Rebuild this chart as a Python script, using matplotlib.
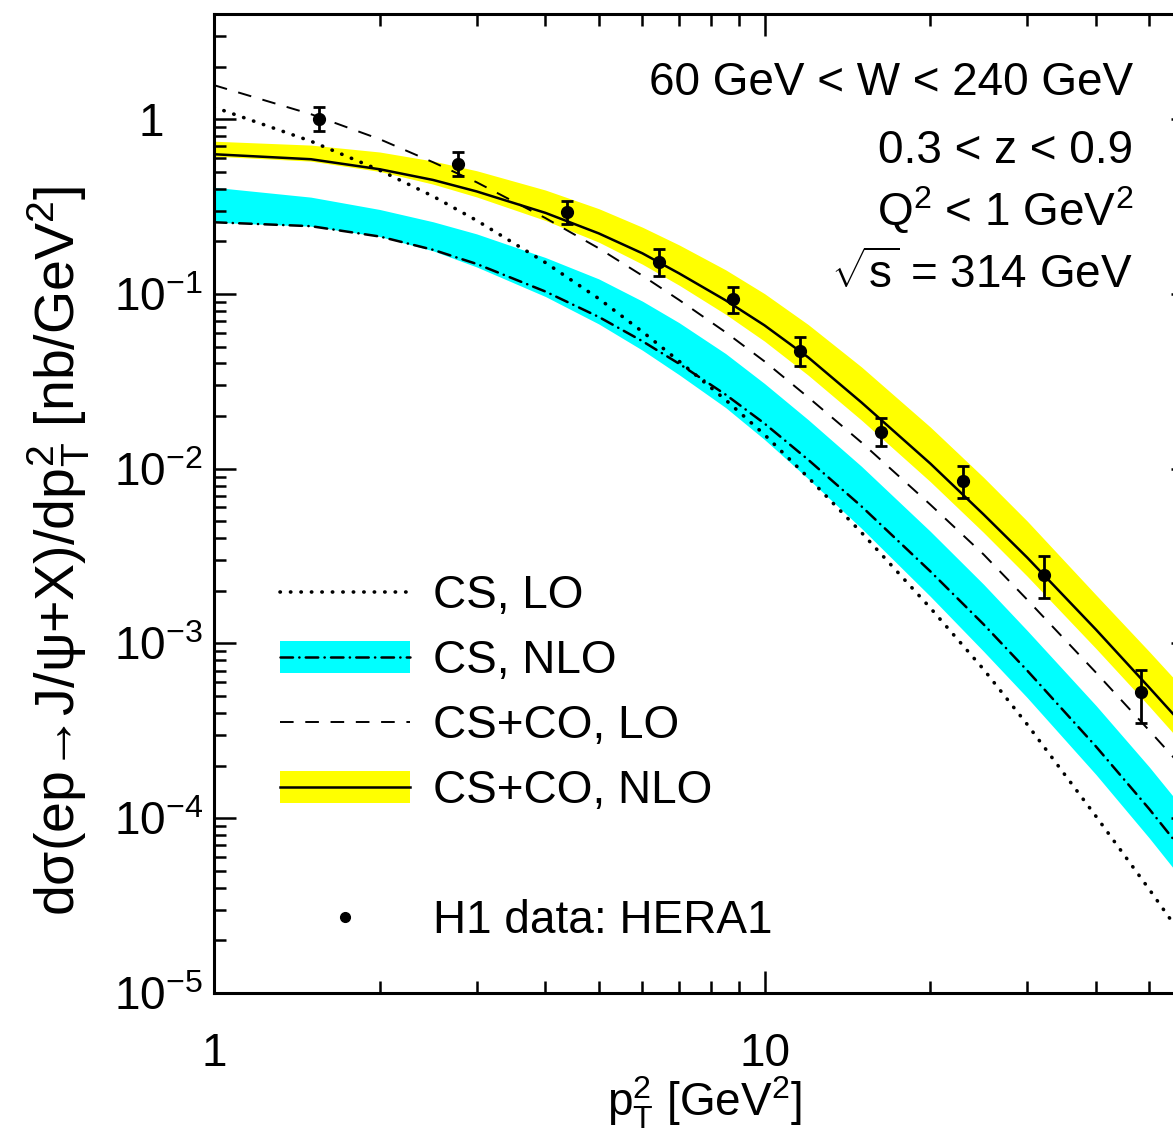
import numpy as np
import matplotlib
matplotlib.use('Agg')
import matplotlib.pyplot as plt
from matplotlib.lines import Line2D
from matplotlib.patches import Patch
from matplotlib.legend_handler import HandlerTuple
from matplotlib.ticker import FixedLocator, LogLocator, FuncFormatter, NullFormatter

plt.rcParams['font.family'] = ['Liberation Sans', 'DejaVu Sans']
plt.rcParams['mathtext.fontset'] = 'custom'
plt.rcParams['mathtext.rm'] = 'Liberation Sans'
plt.rcParams['mathtext.it'] = 'Liberation Sans'
plt.rcParams['mathtext.sf'] = 'Liberation Sans'

# theory curves (pT^2 in GeV^2, dsigma in nb/GeV^2)
pt2 = [1, 1.5, 2, 2.5, 3, 4, 5, 6, 7, 8.5, 10, 12, 15, 20, 25, 30, 40, 50, 60]
cs_lo = [1.1716, 0.7482, 0.5104, 0.3622, 0.2633, 0.1511, 0.09399, 0.06082,
         0.04117, 0.02475, 0.01566, 0.008917, 0.004311, 0.001599, 0.0007106,
         0.0003441, 1.025e-4, 3.909e-5, 1.735e-5]
cs_nlo = [0.2571, 0.2442, 0.2131, 0.1789, 0.1485, 0.1032, 0.07385, 0.05367,
          0.03983, 0.02653, 0.01813, 0.01126, 0.006089, 0.002588, 0.001286,
          0.0006997, 0.0002571, 1.127e-4, 5.488e-5]
cs_nlo_hi = [0.4078, 0.3580, 0.3043, 0.2588, 0.2206, 0.1616, 0.1219, 0.09095,
             0.06839, 0.04557, 0.03072, 0.01909, 0.01032, 0.004385, 0.002180,
             0.001186, 0.0004415, 0.0001962, 9.674e-5]
cs_nlo_lo = [0.2571, 0.2442, 0.2131, 0.1765, 0.1427, 0.09663, 0.06733, 0.04766,
             0.03445, 0.02236, 0.01468, 0.008766, 0.004557, 0.001861, 0.0009011,
             0.0004898, 0.0001777, 7.691e-5, 3.744e-5]
csco_lo = [1.5656, 1.0682, 0.7683, 0.5672, 0.4356, 0.2717, 0.1825, 0.1273,
           0.09226, 0.06034, 0.04111, 0.02564, 0.01413, 0.006235, 0.00323,
           0.00178, 0.000681, 0.000317, 0.000168]
csco_nlo = [0.630, 0.590, 0.517, 0.449, 0.386, 0.291, 0.222, 0.1708,
            0.131, 0.0919, 0.0661, 0.0434, 0.02394, 0.01071, 0.00547,
            0.00310, 0.00120, 0.000558, 0.000296]
csco_nlo_hi = [0.7482, 0.7108, 0.6489, 0.5762, 0.5070, 0.3931, 0.3076, 0.2410,
               0.1906, 0.1374, 0.1004, 0.06688, 0.03823, 0.01733, 0.008917,
               0.005017, 0.001896, 0.0008974, 0.0004797]
csco_nlo_lo = [0.6138, 0.5754, 0.5023, 0.4249, 0.3589, 0.2633, 0.1978, 0.1480,
               0.1121, 0.07650, 0.05367, 0.03431, 0.01896, 0.008437, 0.004311,
               0.002426, 0.0009350, 0.0004363, 0.0002292]

# H1 data (HERA1)
h1_x = [1.55, 2.78, 4.37, 6.42, 8.75, 11.6, 16.3, 22.9, 32.2, 48.3]
h1_y = [1.0, 0.552, 0.293, 0.152, 0.093, 0.0469, 0.0163, 0.00845, 0.00248, 0.00053]
h1_hi = [1.17, 0.647, 0.339, 0.18, 0.109, 0.0564, 0.0196, 0.0103, 0.00318, 0.000708]
h1_lo = [0.854, 0.472, 0.250, 0.126, 0.0774, 0.0385, 0.0134, 0.00684, 0.00183, 0.000352]

cuts = ['60 GeV < W < 240 GeV', '0.3 < z < 0.9',
        'Q$^2$ < 1 GeV$^2$', r'$\sqrt{\mathrm{s}}$ = 314 GeV']

fs = 33
fig = plt.figure(figsize=(11.73, 11.45), dpi=100)
ax = fig.add_axes([0.1824, 0.1328, 0.8346, 0.855])
ax.set_xscale('log')
ax.set_yscale('log')

ax.fill_between(pt2, csco_nlo_lo, csco_nlo_hi, color='#ffff00', lw=0, zorder=1)
ax.fill_between(pt2, cs_nlo_lo, cs_nlo_hi, color='#00ffff', lw=0, zorder=1)
ax.plot(pt2, cs_lo, color='k', lw=2.6, ls=(0, (0.1, 2.8)), dash_capstyle='round', zorder=3)
ax.plot(pt2, cs_nlo, color='k', lw=1.8, ls=(0, (5, 2.5, 0.1, 2.5)), dash_capstyle='round', zorder=3)
ax.plot(pt2, csco_lo, color='k', lw=1.4, ls=(0, (7, 6)), zorder=3)
ax.plot(pt2, csco_nlo, color='k', lw=1.8, zorder=3)

yerr = [np.array(h1_y) - np.array(h1_lo), np.array(h1_hi) - np.array(h1_y)]
ax.errorbar(h1_x, h1_y, yerr=yerr, fmt='o', color='k', ms=8.5,
            elinewidth=2.0, capsize=4.5, capthick=2.0, zorder=5)

ax.set_xlim(1, 60)
ax.set_ylim(1e-5, 4)

ax.xaxis.set_major_locator(FixedLocator([1, 10, 100]))
ax.xaxis.set_major_formatter(FuncFormatter(lambda v, p: '%d' % v))
ax.xaxis.set_minor_locator(LogLocator(base=10, subs=np.arange(2, 10)))
ax.xaxis.set_minor_formatter(NullFormatter())


def yfmt(v, p):
    e = int(round(np.log10(v)))
    if e == 0:
        return '1   '
    return r'$10^{%d}$' % e


ax.yaxis.set_major_locator(FixedLocator([1e-5, 1e-4, 1e-3, 1e-2, 1e-1, 1]))
ax.yaxis.set_major_formatter(FuncFormatter(yfmt))
ax.yaxis.set_minor_locator(LogLocator(base=10, subs=np.arange(2, 10), numticks=20))
ax.yaxis.set_minor_formatter(NullFormatter())

ax.tick_params(which='both', direction='in', top=True, right=True, width=1.8)
ax.tick_params(which='major', length=15.5)
ax.tick_params(which='minor', length=8.5)
ax.tick_params(axis='x', labelsize=fs, pad=28)
ax.tick_params(axis='y', labelsize=fs, pad=8)
for s in ax.spines.values():
    s.set_linewidth(2.2)

ax.set_xlabel(r'p$_\mathrm{T}^2$ [GeV$^2$]', fontsize=fs, ha='right')
ax.xaxis.set_label_coords(0.6006, -0.083)
ax.xaxis.label.set_va('top')
ax.set_ylabel('dσ(ep→J/ψ+X)/dp$_\\mathrm{T}^2$ [nb/GeV$^2$]',
              fontsize=40, loc='top')
ax.yaxis.set_label_coords(-0.125, 0.825)

for i, t in enumerate(cuts):
    ax.text(0.9387, [0.9173, 0.8478, 0.7845, 0.7201][i], t, fontsize=fs,
            ha='right', va='baseline', transform=ax.transAxes)

h_cslo = Line2D([], [], color='k', lw=2.6, ls=(0, (0.1, 2.8)), dash_capstyle='round')
h_csnlo = (Patch(facecolor='#00ffff', lw=0),
           Line2D([], [], color='k', lw=1.8, ls=(0, (5, 2.5, 0.1, 2.5)), dash_capstyle='round'))
h_cscolo = Line2D([], [], color='k', lw=1.4, ls=(0, (7, 6)))
h_csconlo = (Patch(facecolor='#ffff00', lw=0), Line2D([], [], color='k', lw=1.8))
h_blank = Line2D([], [], color='none')
h_h1 = Line2D([], [], color='k', marker='o', ms=7, ls='none')
ax.legend([h_cslo, h_csnlo, h_cscolo, h_csconlo, h_blank, h_h1],
          ['CS, LO', 'CS, NLO', 'CS+CO, LO', 'CS+CO, NLO', ' ', 'H1 data: HERA1'],
          handler_map={tuple: HandlerTuple(ndivide=1)},
          loc='upper left', bbox_to_anchor=(0.0674, 0.428), frameon=False,
          fontsize=fs, handlelength=2.83, handletextpad=0.5, labelspacing=0.46,
          borderpad=0, borderaxespad=0, numpoints=1)

fig.savefig('out.png', dpi=100)
